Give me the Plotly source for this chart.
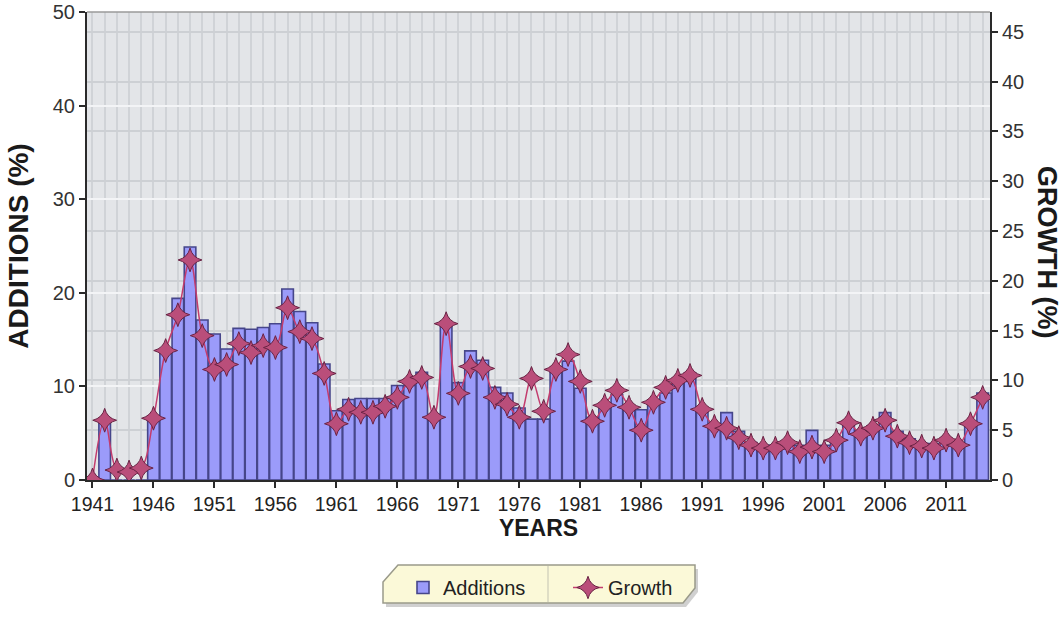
import plotly.graph_objects as go

# ---------------- data ----------------
years = list(range(1941, 2015))
additions = [0.0, 6.5, 0.0, 0.0, 0.0, 6.8, 13.9, 19.4, 24.9, 17.1,
             15.6, 14.0, 16.2, 16.1, 16.3, 16.7, 20.4, 18.0, 16.8, 12.4,
             7.4, 8.6, 8.7, 8.7, 8.7, 10.1, 10.1, 11.5, 7.0, 16.8,
             10.4, 13.8, 12.8, 9.9, 9.3, 7.7, 6.5, 6.5, 12.0, 12.7,
             9.8, 6.7, 7.7, 9.1, 7.9, 7.5, 8.4, 9.3, 10.6, 11.4,
             7.7, 5.9, 7.2, 5.2, 4.0, 3.7, 3.7, 3.9, 3.7, 5.3,
             3.7, 4.3, 6.3, 5.2, 5.8, 7.2, 5.2, 4.4, 3.9, 3.9,
             4.0, 3.9, 5.9, 9.3]
growth = [0.0, 6.0, 1.0, 0.8, 1.2, 6.2, 13.0, 16.6, 22.1, 14.5,
          11.1, 11.6, 13.7, 12.8, 13.5, 13.3, 17.3, 14.9, 14.2, 10.7,
          5.65, 7.1, 6.8, 6.8, 7.4, 8.3, 9.9, 10.3, 6.3, 15.7,
          8.7, 11.4, 11.2, 8.3, 7.6, 6.3, 10.2, 6.9, 11.1, 12.6,
          9.9, 5.9, 7.5, 9.0, 7.3, 5.0, 7.8, 9.3, 10.0, 10.5,
          7.1, 5.4, 5.2, 4.25, 3.5, 3.2, 3.2, 3.75, 2.85, 3.3,
          2.85, 4.0, 5.75, 4.6, 5.2, 6.0, 4.4, 3.75, 3.4, 3.2,
          4.0, 3.5, 5.65, 8.3]
x_tick_years = list(range(1941, 2012, 5))
x_tick_labels = [str(v) for v in x_tick_years]
left_ticks = [0, 10, 20, 30, 40, 50]
right_ticks = [0, 5, 10, 15, 20, 25, 30, 35, 40, 45]

# ---------------- geometry helpers (page pixels) ----------------
W, H = 1063, 619
PL, PR, PT, PB = 87, 990, 12, 480   # plot area in page pixels
L, T = PL, PT
PW, PH = PR - PL, PB - PT
R = W - L - PW
B = H - T - PH


def px(x):
    return (x - PL) / PW


def py(y):
    return (PB - y) / PH


FONT = "Liberation Sans, Arial, sans-serif"

fig = go.Figure()
fig.add_trace(go.Bar(
    x=years, y=additions, name="Additions", yaxis="y",
    marker=dict(color="rgb(155,155,250)",
                line=dict(color="rgb(70,70,138)", width=1.6)),
))
fig.add_trace(go.Scatter(
    x=years, y=growth, name="Growth", yaxis="y2", mode="lines+markers",
    line=dict(color="rgb(195,60,110)", width=1.5, shape="spline", smoothing=1),
    marker=dict(symbol="star-diamond", size=17, color="rgb(186,78,122)",
                line=dict(color="rgb(105,35,68)", width=1)),
))

axis_common = dict(showline=True, linecolor="#2a2a2a", linewidth=2,
                   ticks="outside", ticklen=6, tickwidth=2, tickcolor="#2a2a2a",
                   zeroline=False, ticklabeloverflow="allow")

fig.update_layout(
    width=W, height=H,
    margin=dict(l=L, r=R, t=T, b=B, autoexpand=False),
    paper_bgcolor="white", plot_bgcolor="#e3e5e8",
    bargap=0.05,
    font=dict(family=FONT, color="#222222"),
    xaxis=dict(range=[1940.55, 2014.6], tickvals=x_tick_years, ticktext=x_tick_labels,
               tickfont=dict(size=19.5, family=FONT, color="#222"),
               showgrid=True, gridcolor="#d0d3d7", gridwidth=1.5,
               minor=dict(tick0=1941, dtick=1, showgrid=True, gridcolor="#d0d3d7",
                          gridwidth=1.5, ticks=""),
               title=dict(text="<b>YEARS</b>", font=dict(size=23, family=FONT, color="#1a1a1a"),
                          standoff=4),
               **axis_common),
    yaxis=dict(range=[0, 50], tickvals=left_ticks,
               tickfont=dict(size=20, family=FONT, color="#333"),
               showgrid=True, gridcolor="#f3f4f6", gridwidth=2,
               title=dict(text="<b>ADDITIONS (%)</b>", font=dict(size=28, family=FONT, color="#1a1a1a"),
                          standoff=16),
               **axis_common),
    yaxis2=dict(range=[0, 47], tickvals=right_ticks, overlaying="y", side="right",
                tickfont=dict(size=20, family=FONT, color="#333"),
                showgrid=True, gridcolor="#cdd0d4", gridwidth=1.5,
                **axis_common),
    showlegend=True,
    legend=dict(orientation="h", x=px(403), xanchor="left", y=py(568), yanchor="top",
                bgcolor="rgba(0,0,0,0)", font=dict(size=20, family=FONT, color="#222"),
                entrywidth=120, traceorder="normal"),
)


def path(points):
    return "M " + " L ".join(f"{px(a):.5f},{py(b):.5f}" for a, b in points) + " Z"


legend_box = [(383, 582), (398, 565), (695, 565), (695, 588), (683, 603), (383, 603)]
shadow_box = [(a + 3, b + 4) for a, b in legend_box]
fig.add_shape(type="path", xref="paper", yref="paper", path=path(shadow_box),
              fillcolor="rgba(120,120,120,0.35)", line=dict(width=0), layer="above")
fig.add_shape(type="path", xref="paper", yref="paper", path=path(legend_box),
              fillcolor="#fbf9d8", line=dict(color="#9a9a8a", width=1.5), layer="above")
fig.add_shape(type="line", xref="paper", yref="paper", x0=px(548), x1=px(548),
              y0=py(566), y1=py(602), line=dict(color="#d6d4bf", width=1.5), layer="above")
# top border of plot area
fig.add_shape(type="line", xref="paper", yref="paper", x0=0, x1=1, y0=1, y1=1,
              line=dict(color="#9a9a9a", width=1.5), layer="above")

fig.add_annotation(text="<b>GROWTH (%)</b>", xref="paper", yref="paper",
                   x=px(1047), y=py(252), xanchor="center", yanchor="middle",
                   textangle=90, showarrow=False,
                   font=dict(size=27, family=FONT, color="#1a1a1a"))

# remove the browser's default 8px page margin so the figure sits at the window origin
fig.write_html("out.html", config={"displayModeBar": False},
               post_script="document.body.style.margin='0px';")
